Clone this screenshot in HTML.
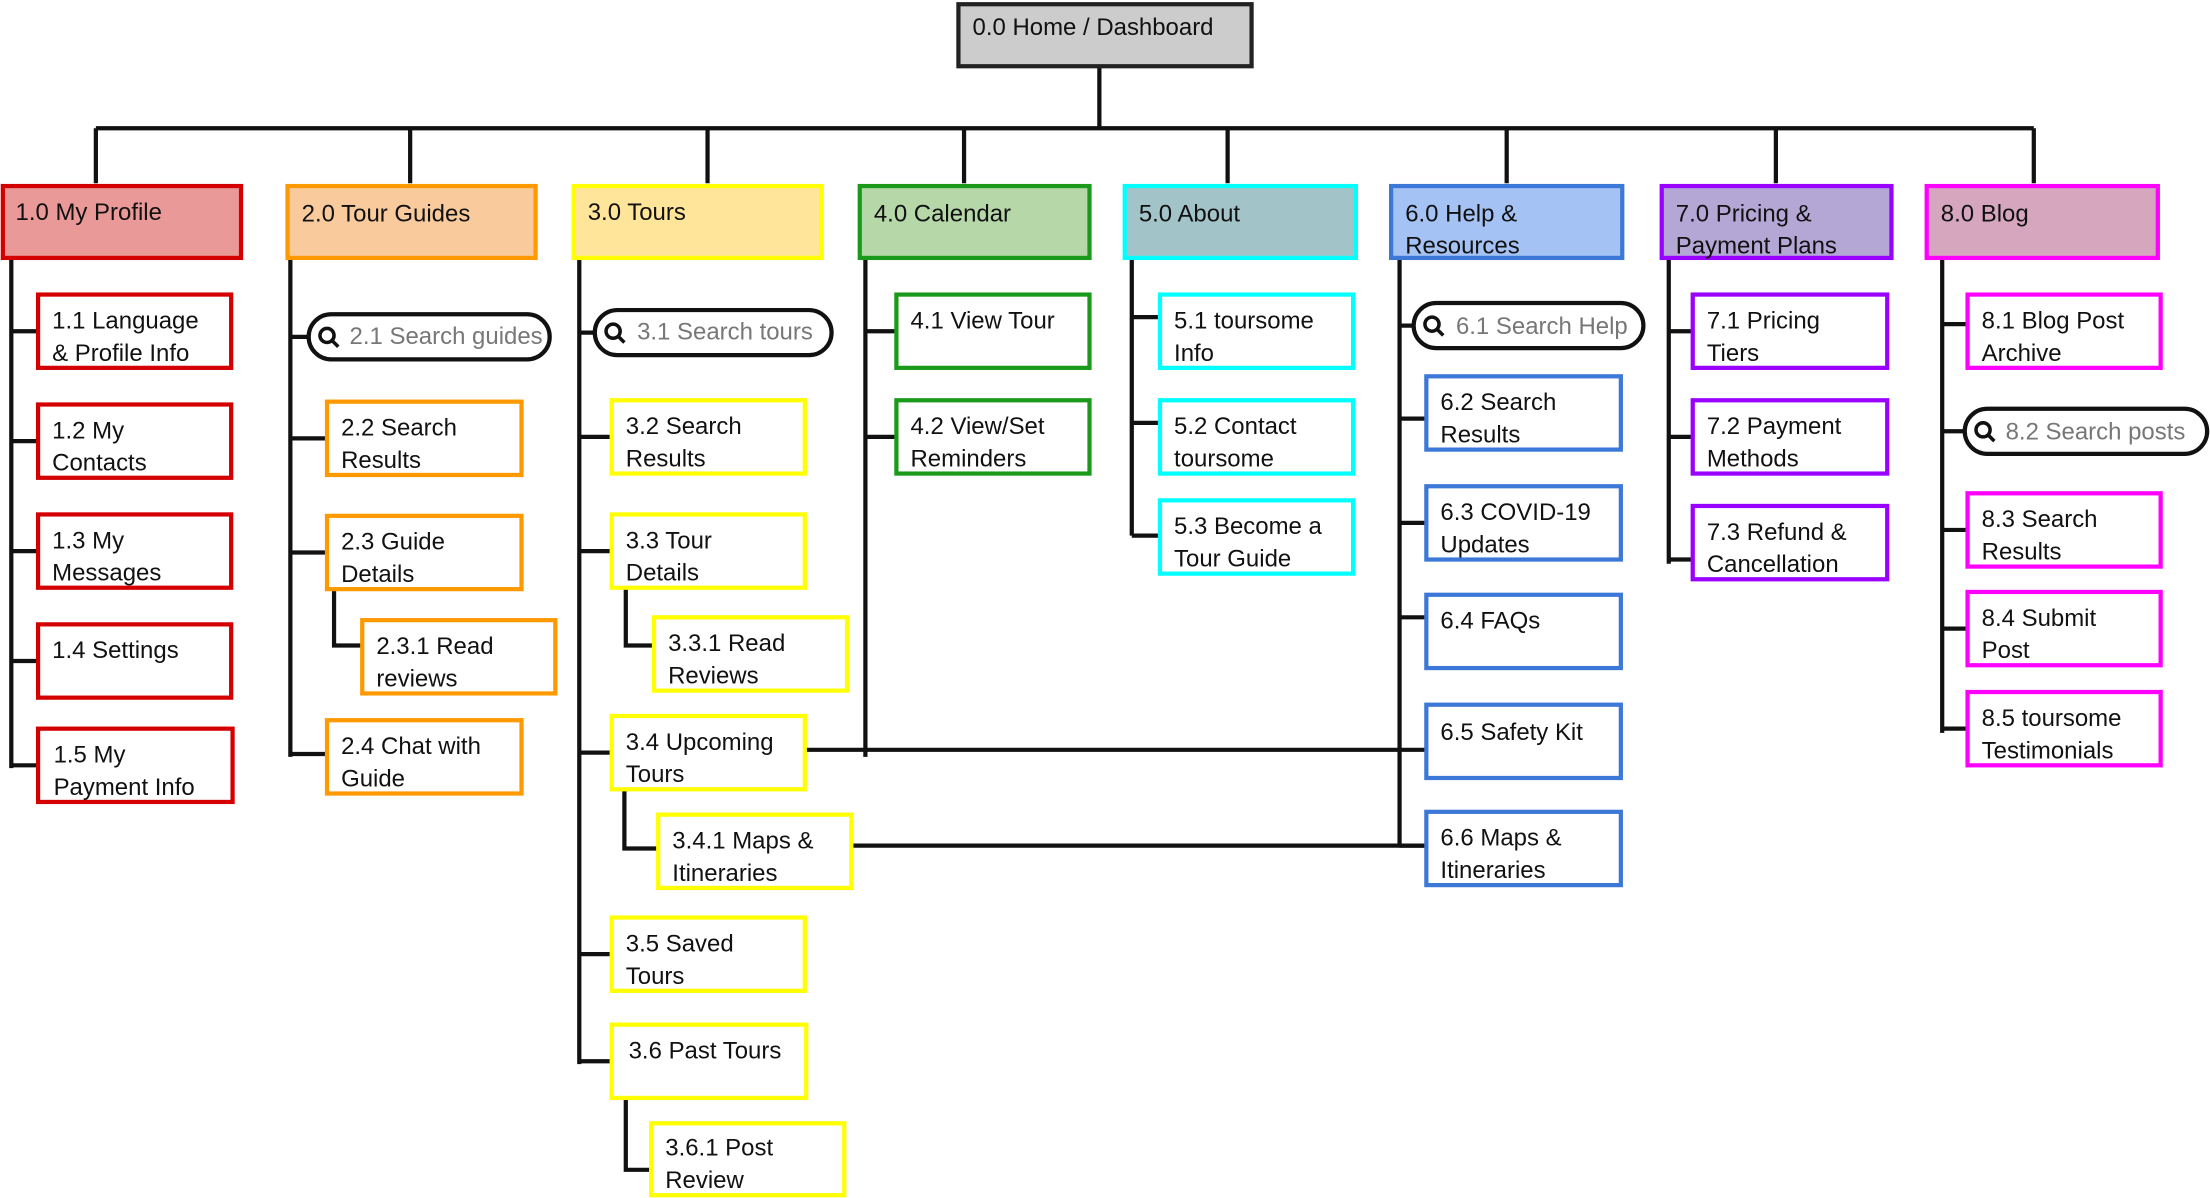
<!DOCTYPE html>
<html><head><meta charset="utf-8"><style>
html,body{margin:0;padding:0;background:#fff;}
svg{display:block;}
text{font-family:"Liberation Sans",sans-serif;font-size:17px;fill:#111;}
.p{fill:#777;}
</style></head><body>
<svg width="2210" height="1198" viewBox="0 0 1568 850" xmlns="http://www.w3.org/2000/svg">
<g stroke="#111" stroke-width="3" fill="none">
<path d="M780 47V92M68 91H1443"/>
<path d="M68 91V130M291 91V130M502 91V130M684 91V130M871 91V130M1069 91V130M1260 91V130M1443 91V130"/>
<!-- col1 -->
<path d="M8 183V545M8 235H27M8 313H27M8 391H27M8 469H27M8 543H27"/>
<!-- col2 -->
<path d="M206 183V537M206 239H219M206 311H232M206 392H232M206 535H232M237 418V458H257"/>
<!-- col3 -->
<path d="M411 183V755M411 236H422M411 310H434M411 391H434M411 534H434M411 677H434M411 753H434M444 417V458H464M443 560V602H467M444 779V830H462"/>
<!-- col4 -->
<path d="M614 183V537M614 235H636M614 310H636"/>
<!-- col5 -->
<path d="M803 183V380M803 225H823M803 300H823M803 380H823"/>
<!-- col6 -->
<path d="M993 183V600M993 231H1003M993 297H1012M993 371H1012M993 438H1012M993 600H1012"/>
<!-- col7 -->
<path d="M1184 183V400M1184 235H1201M1184 310H1201M1184 397H1201"/>
<!-- col8 -->
<path d="M1378 183V520M1378 230H1396M1378 306H1394M1378 376H1396M1378 446H1396M1378 517H1396"/>
<!-- cross -->
<path d="M571 532H1012M604 600H1012"/>
</g>
<!-- root -->
<rect x="680" y="3" width="208" height="44" fill="#ccc" stroke="#222" stroke-width="3"/>
<text x="690" y="25">0.0 Home / Dashboard</text>
<!-- top level -->
<g stroke-width="3">
<rect x="2" y="132" width="169" height="51" fill="#ea9999" stroke="#d40000"/>
<rect x="204" y="132" width="176" height="51" fill="#f9cb9c" stroke="#ff9900"/>
<rect x="407" y="132" width="176" height="51" fill="#ffe599" stroke="#ffff00"/>
<rect x="610" y="132" width="163" height="51" fill="#b6d7a8" stroke="#1a9a1a"/>
<rect x="798" y="132" width="164" height="51" fill="#a2c4c9" stroke="#00ffff"/>
<rect x="987" y="132" width="164" height="51" fill="#a4c2f4" stroke="#3c78d8"/>
<rect x="1179" y="132" width="163" height="51" fill="#b4a7d6" stroke="#9900ff"/>
<rect x="1367" y="132" width="164" height="51" fill="#d5a6bd" stroke="#ff00ff"/>
</g>
<text x="11" y="156">1.0 My Profile</text>
<text x="214" y="157">2.0 Tour Guides</text>
<text x="417" y="156">3.0 Tours</text>
<text x="620" y="157">4.0 Calendar</text>
<text x="808" y="157">5.0 About</text>
<text x="997" y="157">6.0 Help &amp;<tspan x="997" dy="23">Resources</tspan></text>
<text x="1189" y="157">7.0 Pricing &amp;<tspan x="1189" dy="23">Payment Plans</tspan></text>
<text x="1377" y="157">8.0 Blog</text>
<!-- boxes -->
<g fill="#fff" stroke-width="3">
<g stroke="#d40000">
<rect x="27" y="209" width="137" height="52"/><rect x="27" y="287" width="137" height="52"/><rect x="27" y="365" width="137" height="52"/><rect x="27" y="443" width="137" height="52"/><rect x="27" y="517" width="138" height="52"/>
</g>
<g stroke="#ff9900">
<rect x="232" y="285" width="138" height="52"/><rect x="232" y="366" width="138" height="52"/><rect x="257" y="440" width="137" height="52"/><rect x="232" y="511" width="138" height="52"/>
</g>
<g stroke="#ffff00">
<rect x="434" y="284" width="137" height="52"/><rect x="434" y="365" width="137" height="52"/><rect x="464" y="438" width="137" height="52"/><rect x="434" y="508" width="137" height="52"/><rect x="467" y="578" width="137" height="52"/><rect x="434" y="651" width="137" height="52"/><rect x="434" y="727" width="138" height="52"/><rect x="462" y="797" width="137" height="51"/>
</g>
<g stroke="#1a9a1a">
<rect x="636" y="209" width="137" height="52"/><rect x="636" y="284" width="137" height="52"/>
</g>
<g stroke="#00ffff">
<rect x="823" y="209" width="137" height="52"/><rect x="823" y="284" width="137" height="52"/><rect x="823" y="355" width="137" height="52"/>
</g>
<g stroke="#3c78d8">
<rect x="1012" y="267" width="138" height="52"/><rect x="1012" y="345" width="138" height="52"/><rect x="1012" y="422" width="138" height="52"/><rect x="1012" y="500" width="138" height="52"/><rect x="1012" y="576" width="138" height="52"/>
</g>
<g stroke="#9900ff">
<rect x="1201" y="209" width="138" height="52"/><rect x="1201" y="284" width="138" height="52"/><rect x="1201" y="359" width="138" height="52"/>
</g>
<g stroke="#ff00ff">
<rect x="1396" y="209" width="137" height="52"/><rect x="1396" y="350" width="137" height="52"/><rect x="1396" y="420" width="137" height="52"/><rect x="1396" y="491" width="137" height="52"/>
</g>
<g stroke="#111">
<rect x="219" y="223" width="171" height="32" rx="16"/>
<rect x="422" y="220" width="168" height="32" rx="16"/>
<rect x="1003" y="215" width="163" height="32" rx="16"/>
<rect x="1394" y="290" width="172" height="32" rx="16"/>
</g>
</g>
<!-- magnifiers -->
<g stroke="#111" stroke-width="2.5" fill="none">
<circle cx="232" cy="238" r="5"/><path d="M236 242l4 4"/>
<circle cx="435" cy="235" r="5"/><path d="M439 239l4 4"/>
<circle cx="1016" cy="230" r="5"/><path d="M1020 234l4 4"/>
<circle cx="1407" cy="305" r="5"/><path d="M1411 309l4 4"/>
</g>
<text class="p" x="248" y="244">2.1 Search guides</text>
<text class="p" x="452" y="241">3.1 Search tours</text>
<text class="p" x="1033" y="237">6.1 Search Help</text>
<text class="p" x="1423" y="312">8.2 Search posts</text>
<!-- labels -->
<text x="37" y="233">1.1 Language<tspan x="37" dy="23">&amp; Profile Info</tspan></text>
<text x="37" y="311">1.2 My<tspan x="37" dy="23">Contacts</tspan></text>
<text x="37" y="389">1.3 My<tspan x="37" dy="23">Messages</tspan></text>
<text x="37" y="467">1.4 Settings</text>
<text x="38" y="541">1.5 My<tspan x="38" dy="23">Payment Info</tspan></text>
<text x="242" y="309">2.2 Search<tspan x="242" dy="23">Results</tspan></text>
<text x="242" y="390">2.3 Guide<tspan x="242" dy="23">Details</tspan></text>
<text x="267" y="464">2.3.1 Read<tspan x="267" dy="23">reviews</tspan></text>
<text x="242" y="535">2.4 Chat with<tspan x="242" dy="23">Guide</tspan></text>
<text x="444" y="308">3.2 Search<tspan x="444" dy="23">Results</tspan></text>
<text x="444" y="389">3.3 Tour<tspan x="444" dy="23">Details</tspan></text>
<text x="474" y="462">3.3.1 Read<tspan x="474" dy="23">Reviews</tspan></text>
<text x="444" y="532">3.4 Upcoming<tspan x="444" dy="23">Tours</tspan></text>
<text x="477" y="602">3.4.1 Maps &amp;<tspan x="477" dy="23">Itineraries</tspan></text>
<text x="444" y="675">3.5 Saved<tspan x="444" dy="23">Tours</tspan></text>
<text x="446" y="751">3.6 Past Tours</text>
<text x="472" y="820">3.6.1 Post<tspan x="472" dy="23">Review</tspan></text>
<text x="646" y="233">4.1 View Tour</text>
<text x="646" y="308">4.2 View/Set<tspan x="646" dy="23">Reminders</tspan></text>
<text x="833" y="233">5.1 toursome<tspan x="833" dy="23">Info</tspan></text>
<text x="833" y="308">5.2 Contact<tspan x="833" dy="23">toursome</tspan></text>
<text x="833" y="379">5.3 Become a<tspan x="833" dy="23">Tour Guide</tspan></text>
<text x="1022" y="291">6.2 Search<tspan x="1022" dy="23">Results</tspan></text>
<text x="1022" y="369">6.3 COVID-19<tspan x="1022" dy="23">Updates</tspan></text>
<text x="1022" y="446">6.4 FAQs</text>
<text x="1022" y="525">6.5 Safety Kit</text>
<text x="1022" y="600">6.6 Maps &amp;<tspan x="1022" dy="23">Itineraries</tspan></text>
<text x="1211" y="233">7.1 Pricing<tspan x="1211" dy="23">Tiers</tspan></text>
<text x="1211" y="308">7.2 Payment<tspan x="1211" dy="23">Methods</tspan></text>
<text x="1211" y="383">7.3 Refund &amp;<tspan x="1211" dy="23">Cancellation</tspan></text>
<text x="1406" y="233">8.1 Blog Post<tspan x="1406" dy="23">Archive</tspan></text>
<text x="1406" y="374">8.3 Search<tspan x="1406" dy="23">Results</tspan></text>
<text x="1406" y="444">8.4 Submit<tspan x="1406" dy="23">Post</tspan></text>
<text x="1406" y="515">8.5 toursome<tspan x="1406" dy="23">Testimonials</tspan></text>
</svg>
</body></html>
